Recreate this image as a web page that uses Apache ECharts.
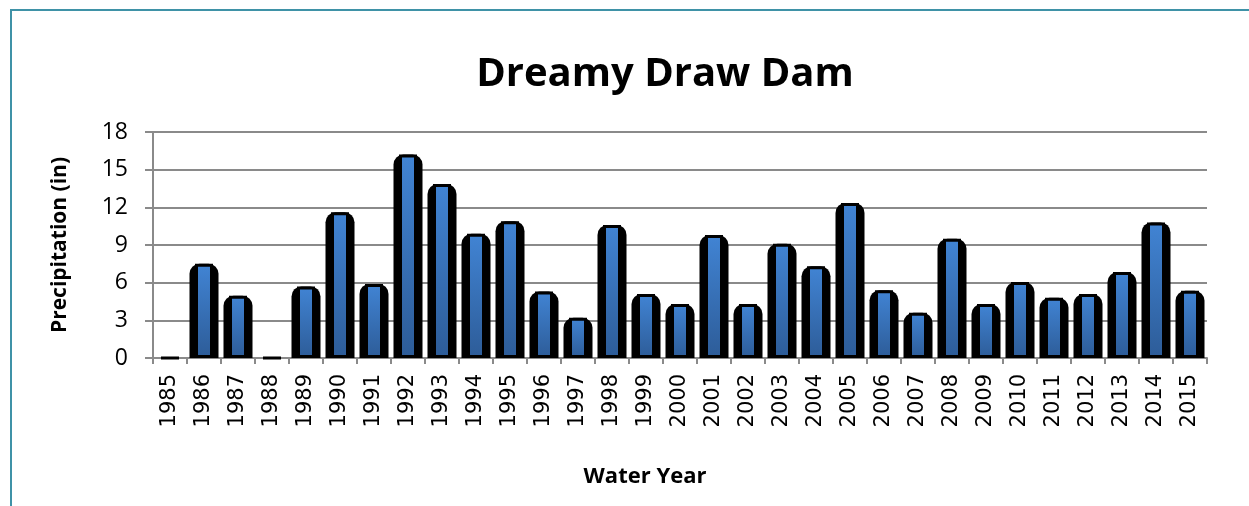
<!DOCTYPE html>
<html>
<head>
<meta charset="utf-8">
<script src="https://cdn.jsdelivr.net/npm/echarts@6/dist/echarts.min.js"></script>
<style>
	html, body { margin: 0; padding: 0; background: #fff; }
	#chart { width: 1249px; height: 506px; }
</style>
</head>
<body>
<div id="chart"></div>
<script>
// 数据
var years = ['1985', '1986', '1987', '1988', '1989', '1990', '1991', '1992', '1993', '1994',
	'1995', '1996', '1997', '1998', '1999', '2000', '2001', '2002', '2003', '2004',
	'2005', '2006', '2007', '2008', '2009', '2010', '2011', '2012', '2013', '2014', '2015'];
var precip = [0, 7.5, 4.95, 0, 5.7, 11.6, 5.9, 16.2, 13.85, 9.9,
	10.9, 5.3, 3.2, 10.6, 5.1, 4.3, 9.8, 4.3, 9.1, 7.3,
	12.35, 5.4, 3.6, 9.5, 4.3, 6.05, 4.8, 5.1, 6.85, 10.8, 5.35];
var yTicks = [0, 3, 6, 9, 12, 15, 18];

var myChart = echarts.init(document.getElementById('chart'));

var gray = '#8a8a8a';

var option = {
	animation: false,
	title: {
		text: 'Dreamy Draw Dam',
		left: 660,
		top: 50,
		textAlign: 'center',
		textStyle: {
			fontFamily: 'Open Sans',
			fontWeight: 'bold',
			fontSize: 40,
			color: '#000'
		}
	},
	// 外框
	graphic: [{
		type: 'polyline',
		shape: { points: [[11, 506], [11, 10], [1249, 10]] },
		style: { stroke: '#3f92a7', lineWidth: 2, fill: null }
	}],
	grid: {
		left: 153,
		right: 42,
		top: 132,
		bottom: 148
	},
	xAxis: [{
		type: 'category',
		data: years,
		name: 'Water Year',
		nameLocation: 'middle',
		nameGap: 108,
		nameTextStyle: {
			fontFamily: 'Open Sans',
			fontWeight: 'bold',
			fontSize: 22,
			color: '#000',
			padding: [0, 70, 0, 0]
		},
		axisLine: { lineStyle: { color: gray, width: 2 } },
		axisTick: { show: true, length: 6, lineStyle: { color: gray, width: 2 } },
		axisLabel: {
			rotate: 90,
			interval: 0,
			margin: 16,
			fontFamily: 'DejaVu Sans',
			fontSize: 21,
			color: '#000'
		}
	}, {
		type: 'category',
		data: years,
		show: false
	}],
	yAxis: {
		type: 'value',
		min: 0,
		max: yTicks[yTicks.length - 1],
		interval: yTicks[1] - yTicks[0],
		name: 'Precipitation (in)',
		nameLocation: 'middle',
		nameGap: 82,
		nameTextStyle: {
			fontFamily: 'Open Sans',
			fontWeight: 'bold',
			fontSize: 21,
			color: '#000'
		},
		axisLine: { show: true, lineStyle: { color: gray, width: 2 } },
		axisTick: { show: true, length: 8, lineStyle: { color: gray, width: 2 } },
		axisLabel: {
			margin: 25,
			fontFamily: 'Open Sans',
			fontSize: 23,
			color: '#000'
		},
		splitLine: { lineStyle: { color: gray, width: 2 } }
	},
	series: [{
		// 黑色外壳
		type: 'bar',
		xAxisIndex: 0,
		data: precip,
		barWidth: 29,
		itemStyle: {
			color: '#000',
			borderRadius: [10, 10, 0, 0]
		}
	}, {
		// 蓝色内芯
		type: 'bar',
		xAxisIndex: 1,
		data: precip,
		barWidth: 18,
		itemStyle: {
			borderColor: '#000',
			borderWidth: 3,
			color: new echarts.graphic.LinearGradient(0, 0, 0, 1, [
				{ offset: 0, color: '#4184d4' },
				{ offset: 1, color: '#2d5c98' }
			])
		}
	}]
};

myChart.setOption(option);
</script>
</body>
</html>
